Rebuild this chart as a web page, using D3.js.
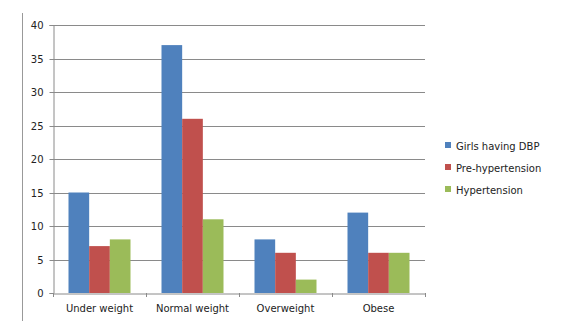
<!DOCTYPE html>
<html><head><meta charset="utf-8">
<script src="https://cdn.jsdelivr.net/npm/d3@7"></script>
<style>body{margin:0;background:#fff}svg{display:block}text{font-family:"DejaVu Sans",sans-serif;fill:#222}</style>
</head><body><svg id="c" width="564" height="321"></svg>
<script>
const categories = ["Under weight","Normal weight","Overweight","Obese"];
const seriesNames = ["Girls having DBP","Pre-hypertension","Hypertension"];
const girlsDBP = [15,37,8,12];
const preHyp = [7,26,6,6];
const hyp = [8,11,2,6];
const yTicks = [0,5,10,15,20,25,30,35,40];
const colors = ["#4F81BD","#C0504D","#9BBB59"];
const series = [girlsDBP, preHyp, hyp];

const svg = d3.select("#c");
const L=53, R=425, T=25, B=293;
const x = d3.scaleBand().domain(categories).range([L,R]).paddingInner(0).paddingOuter(0);
const xs = d3.scaleBand().domain(seriesNames).range([0,x.bandwidth()]).paddingOuter(0.75).paddingInner(0);
const y = d3.scaleLinear().domain([0,40]).range([B,T]);

// left border line
svg.append("line").attr("x1",22.5).attr("x2",22.5).attr("y1",13).attr("y2",321).attr("stroke","#999");

// gridlines
svg.append("g").selectAll("line").data(yTicks.filter(d=>d>0)).join("line")
  .attr("x1",L).attr("x2",R).attr("y1",d=>Math.round(y(d))+0.5).attr("y2",d=>Math.round(y(d))+0.5)
  .attr("stroke","#8a8a8a");

// bars
series.forEach((vals,si)=>{
  svg.append("g").selectAll("rect").data(vals).join("rect")
    .attr("x",(d,i)=>x(categories[i])+xs(seriesNames[si]))
    .attr("width",xs.bandwidth())
    .attr("y",d=>y(d)).attr("height",d=>B-y(d))
    .attr("fill",colors[si]);
});

// y axis
const ya = svg.append("g").attr("transform",`translate(${L+0.5},0)`)
  .call(d3.axisLeft(y).tickValues(yTicks).tickSize(4).tickPadding(6));
ya.select(".domain").attr("stroke","#8a8a8a");
ya.selectAll(".tick line").attr("stroke","#8a8a8a");
ya.selectAll(".tick").attr("transform",d=>`translate(0,${Math.round(y(d))+0.5})`);
ya.selectAll("text").style("font-size","10px").attr("fill","#222");

// x axis
const xa = svg.append("g").attr("transform",`translate(0,${B+0.5})`)
  .call(d3.axisBottom(x).tickSize(0).tickPadding(11));
xa.select(".domain").attr("stroke","#8a8a8a");
xa.selectAll("text").style("font-size","10px").attr("fill","#222");
// category boundary ticks
const bounds = categories.map(c=>x(c)).concat([R]);
svg.append("g").selectAll("line").data(bounds).join("line")
  .attr("x1",d=>Math.round(d)+0.5).attr("x2",d=>Math.round(d)+0.5).attr("y1",B).attr("y2",B+4).attr("stroke","#8a8a8a");

// legend
const lg = svg.append("g").attr("transform","translate(445,146)");
seriesNames.forEach((n,i)=>{
  const g = lg.append("g").attr("transform",`translate(0,${i*22})`);
  g.append("rect").attr("x",0).attr("y",-4).attr("width",6).attr("height",6).attr("fill",colors[i]);
  g.append("text").attr("x",11).attr("y",0).attr("dy","0.35em").style("font-size","10px").text(n);
});
</script></body></html>
